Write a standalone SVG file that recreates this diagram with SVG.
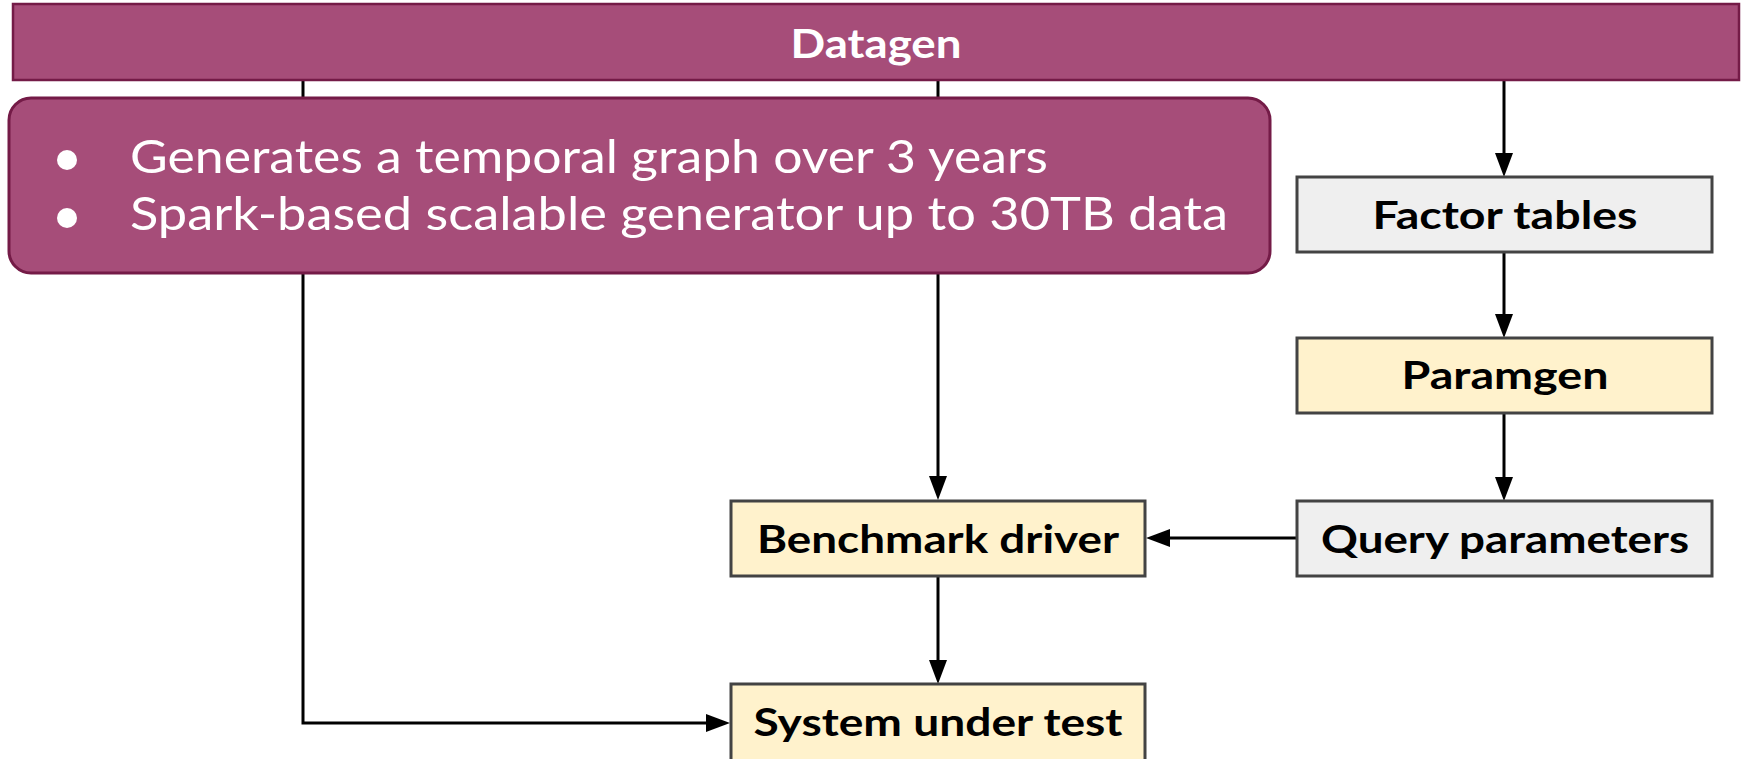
<svg xmlns="http://www.w3.org/2000/svg" width="1741" height="759" viewBox="0 0 1741 759">
  <defs>
    <marker id="arrow" markerUnits="userSpaceOnUse" markerWidth="24" markerHeight="18" refX="12" refY="9" orient="auto">
      <path d="M0,0 L24,9 L0,18 Z" fill="#000"/>
    </marker>
    <style>
      .edge { fill: none; stroke: #000; stroke-width: 3; marker-end: url(#arrow); }
      .banner { fill: #a64d79; stroke: #741b47; }
      .box { stroke: #434343; stroke-width: 3; }
      .grey { fill: #efefef; }
      .cream { fill: #fff2cc; }
      .label { font-family: Lato, "Liberation Sans", sans-serif; font-weight: 700; font-size: 39px; fill: #000; text-anchor: middle; }
      .title { font-family: Lato, "Liberation Sans", sans-serif; font-weight: 700; font-size: 41px; fill: #fff; text-anchor: middle; }
      .bullet { font-family: Lato, "Liberation Sans", sans-serif; font-size: 46px; fill: #fff; }
    </style>
  </defs>
  <rect width="1741" height="759" fill="#fff"/>

  <!-- connectors -->
  <g id="connectors">
    <path class="edge" d="M303,80 V723 H718"/>
    <path class="edge" d="M938,80 V488"/>
    <path class="edge" d="M1504,80 V165"/>
    <path class="edge" d="M1504,252 V326"/>
    <path class="edge" d="M1504,413 V489"/>
    <path class="edge" d="M1297,538 H1158"/>
    <path class="edge" d="M938,576 V672"/>
  </g>

  <!-- generator banner -->
  <g id="datagen">
    <rect class="banner" x="13" y="4" width="1726" height="76" stroke-width="2.5"/>
    <text class="title" x="876" y="58" textLength="171" lengthAdjust="spacingAndGlyphs">Datagen</text>
  </g>

  <!-- description callout -->
  <g id="description">
    <rect class="banner" x="9" y="98" width="1261" height="175" rx="22" ry="22" stroke-width="3"/>
    <circle cx="67" cy="160" r="10" fill="#fff"/>
    <circle cx="67" cy="218" r="10" fill="#fff"/>
    <text class="bullet" x="130" y="173" textLength="918" lengthAdjust="spacingAndGlyphs">Generates a temporal graph over 3 years</text>
    <text class="bullet" x="130" y="230" textLength="1098" lengthAdjust="spacingAndGlyphs">Spark-based scalable generator up to 30TB data</text>
  </g>

  <g id="factor-tables">
    <rect class="box grey" x="1297" y="177" width="415" height="75"/>
    <text class="label" x="1505" y="229" textLength="265" lengthAdjust="spacingAndGlyphs">Factor tables</text>
  </g>

  <g id="paramgen">
    <rect class="box cream" x="1297" y="338" width="415" height="75"/>
    <text class="label" x="1505" y="389" textLength="207" lengthAdjust="spacingAndGlyphs">Paramgen</text>
  </g>

  <g id="query-parameters">
    <rect class="box grey" x="1297" y="501" width="415" height="75"/>
    <text class="label" x="1505" y="553" textLength="368" lengthAdjust="spacingAndGlyphs">Query parameters</text>
  </g>

  <g id="benchmark-driver">
    <rect class="box cream" x="731" y="501" width="414" height="75"/>
    <text class="label" x="938" y="553" textLength="362" lengthAdjust="spacingAndGlyphs">Benchmark driver</text>
  </g>

  <g id="system-under-test">
    <rect class="box cream" x="731" y="684" width="414" height="78"/>
    <text class="label" x="938" y="736" textLength="369" lengthAdjust="spacingAndGlyphs">System under test</text>
  </g>
</svg>
